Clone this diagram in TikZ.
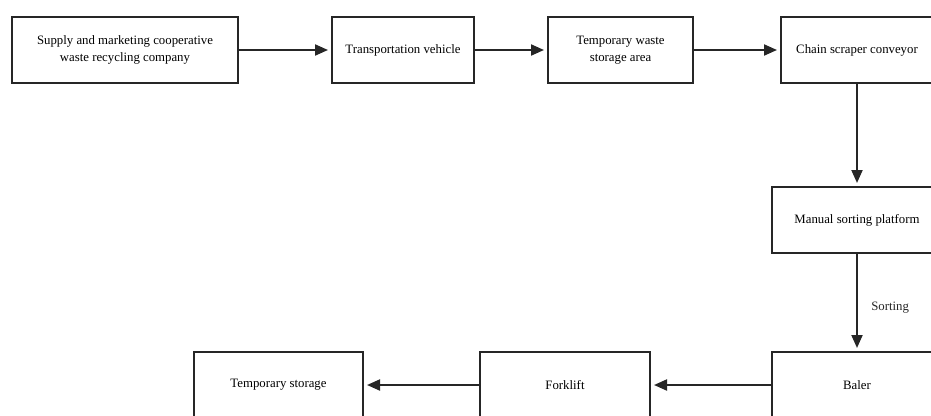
\documentclass[tikz,border=0pt]{standalone}
\usepackage{fontspec}
\setmainfont{Liberation Serif}
\usetikzlibrary{arrows.meta,positioning}

\begin{document}
\begin{tikzpicture}[
 box/.style={draw=black!85,line width=2pt,minimum height=66pt,inner sep=2pt,
 align=center,font=\fontsize{12.8}{17}\selectfont},
 >={Triangle[length=13pt,width=11pt]},
 flow/.style={->,line width=2pt,black!85,shorten >=3pt}]
\useasboundingbox (0,0) rectangle (931pt,-415pt);
\clip (0,0) rectangle (931pt,-415pt);
% top row
\node[box,minimum width=226pt,anchor=north west] (a) at (11pt,-16pt)
 {Supply and marketing cooperative\\waste recycling company};
\node[box,minimum width=142pt,right=92pt of a] (b) {Transportation vehicle};
\node[box,minimum width=145pt,right=72pt of b] (c) {Temporary waste\\storage area};
\node[box,minimum width=152pt,right=86pt of c] (d) {Chain scraper conveyor};
% right column
\node[box,minimum width=170pt,below=102pt of d] (e) {Manual sorting platform};
\node[box,minimum width=170pt,below=97pt of e] (f) {Baler};
% bottom row
\node[box,minimum width=170pt,left=120pt of f] (g) {Forklift};
\node[box,minimum width=169pt,left=115pt of g] (h) {Temporary storage};
\foreach \x/\y in {a/b,b/c,c/d,d/e,f/g,g/h} \draw[flow] (\x)--(\y);
\draw[flow] (e)--node[right=10pt,pos=.55,font=\fontsize{12.8}{15}\selectfont]{Sorting}(f);
\end{tikzpicture}
\end{document}
